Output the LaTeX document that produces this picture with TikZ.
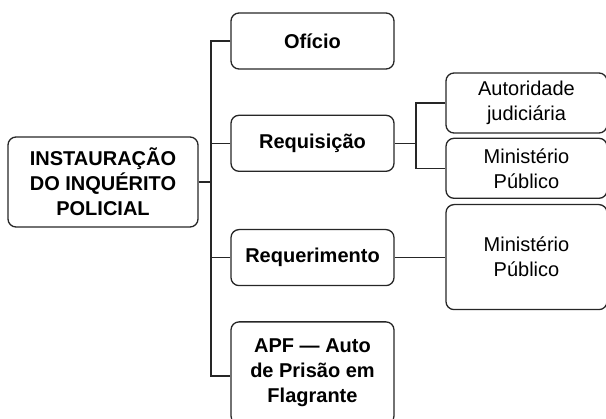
\documentclass[tikz,border=0pt]{standalone}
\usepackage{fontspec}
\setmainfont{Liberation Sans}
\usetikzlibrary{positioning}

\begin{document}
\begin{tikzpicture}[x=1pt, y=-1pt,
node distance = 45pt and 20pt,
box/.style  = {draw=black!85, line width=1.3pt, rounded corners=8pt,
               align=center, inner sep=0pt,
               font=\bfseries\fontsize{20}{25}\selectfont},
lvl1/.style = {box, minimum width=163pt, minimum height=56pt},
lvl2/.style = {box, font=\fontsize{20}{25}\selectfont,
               minimum width=161pt, minimum height=60pt},
link/.style = {draw=black!85, line width=1.3pt},
                        ]
\useasboundingbox (0,0) rectangle (606,419);
\node (inq) [box, minimum width=190pt, minimum height=90pt] at (103,182)
      {INSTAURAÇÃO\\DO INQUÉRITO\\POLICIAL};
\node (ofi)  [lvl1] at (312.5,41)        {Ofício};
\node (reqs) [lvl1, below=45pt of ofi]   {Requisição};
\node (reqm) [lvl1, below=57pt of reqs]  {Requerimento};
\node (apf)  [lvl1, minimum height=102pt, below=35pt of reqm]
      {APF — Auto\\de Prisão em\\Flagrante};
\node (aut)  [lvl2] at (526.5,103)       {Autoridade\\judiciária};
\node (mp1)  [lvl2, below=4pt of aut]    {Ministério\\Público};
\node (mp2)  [lvl2, minimum height=105pt, below=5pt of mp1]
      {Ministério\\Público};
% tronco principal
\coordinate (tr) at (211,182);
\coordinate (apfin) at (apf.west |- 0,376);
\draw[link] (inq.east) -- (tr);
\draw[link] (ofi.west) -- (ofi.west -| tr) -- (apfin -| tr) -- (apfin);
\draw[link] (reqs.west) -- (reqs.west -| tr);
\draw[link] (reqm.west) -- (reqm.west -| tr);
% ramos da requisicao
\coordinate (fork) at (416,142);
\draw[link] (reqs.east) -- (reqs.east -| fork);
\draw[link] (aut.west) -- (aut.west -| fork) -- (mp1.west -| fork) -- (mp1.west);
\draw[link] (reqm.east) -- (reqm.east -| mp2.west);
\end{tikzpicture}
\end{document}
